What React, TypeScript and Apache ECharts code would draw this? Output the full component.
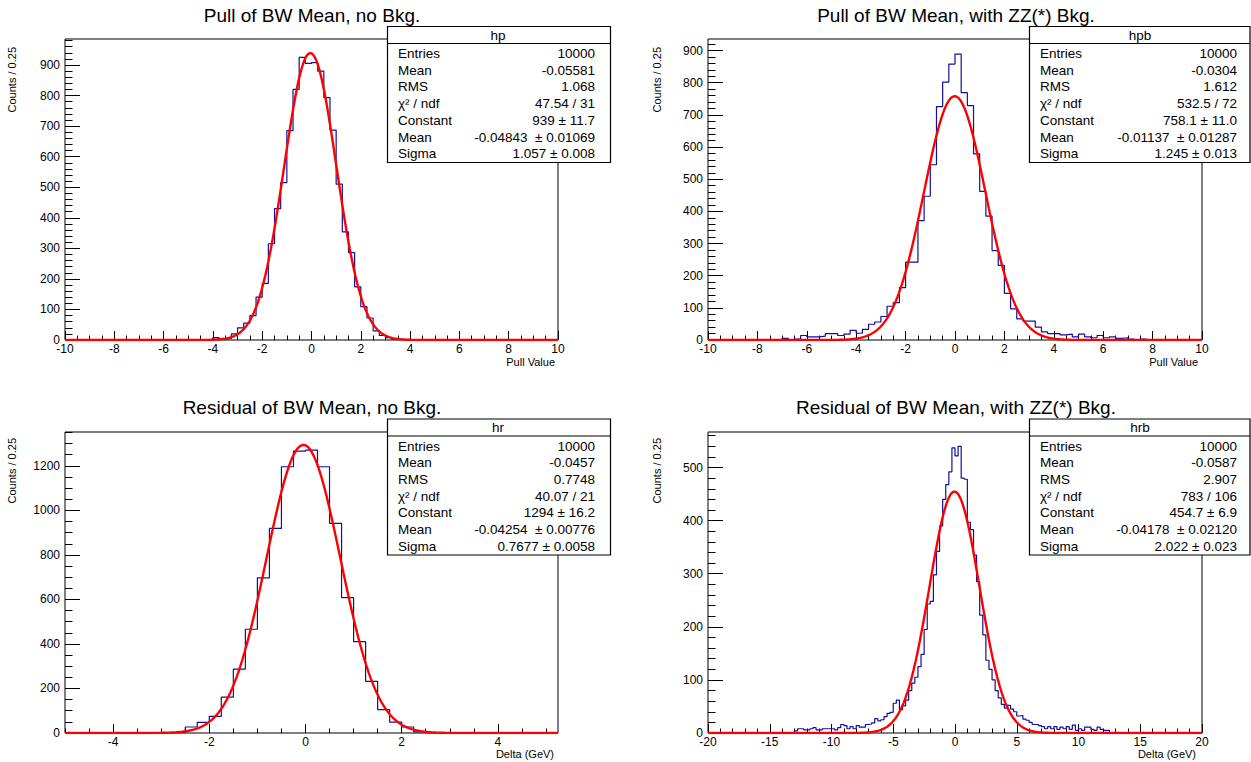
import React, { useEffect, useRef } from "react";
import * as echarts from "echarts";

const FONT = "'Liberation Sans', Arial, Helvetica, sans-serif";
const BIN_WIDTH = 0.25;

// ---------- texts ----------
const panelTitles = [
  "Pull of BW Mean, no Bkg.",
  "Pull of BW Mean, with ZZ(*) Bkg.",
  "Residual of BW Mean, no Bkg.",
  "Residual of BW Mean, with ZZ(*) Bkg.",
];
const xAxisTitles = ["Pull Value", "Pull Value", "Delta (GeV)", "Delta (GeV)"];
const yAxisTitle = "Counts / 0.25";

// ---------- axis ranges & ticks ----------
const xMin = [-10, -10, -5, -20];
const xMax = [10, 10, 5.25, 20];
const yMax = [985, 936, 1352, 567];
const xTickLabels = [
  [-10, -8, -6, -4, -2, 0, 2, 4, 6, 8, 10],
  [-10, -8, -6, -4, -2, 0, 2, 4, 6, 8, 10],
  [-4, -2, 0, 2, 4],
  [-20, -15, -10, -5, 0, 5, 10, 15, 20],
];
const yTickLabels = [
  [0, 100, 200, 300, 400, 500, 600, 700, 800, 900],
  [0, 100, 200, 300, 400, 500, 600, 700, 800, 900],
  [0, 200, 400, 600, 800, 1000, 1200],
  [0, 100, 200, 300, 400, 500],
];
const xMinorStep = [0.5, 0.5, 0.5, 1];
const yMinorStep = [20, 20, 50, 20];

// ---------- histogram contents (bin width 0.25, first bin low edge = start) ----------
const pullNoBkgStart = -4.0;
const pullNoBkgCounts = [
  8, 3, 5, 20, 40, 55, 80, 140, 185, 315, 430, 515, 685, 820, 925, 905,
  908, 880, 793, 687, 510, 354, 286, 174, 109, 72, 30, 15, 8, 3, 2,
];

const pullBkgStart = -7.0;
const pullBkgCounts = [
  5, 0, 3, 14, 10, 10, 12, 20, 20, 14, 18, 30, 21, 33, 49, 56, 73, 105, 116, 163,
  242, 242, 371, 447, 545, 726, 802, 858, 889, 769, 729, 579, 462, 385, 278, 232,
  145, 97, 66, 59, 59, 40, 25, 20, 20, 16, 18, 10, 18, 10, 7, 14, 7, 10, 5, 7, 3, 0, 3,
];

const residNoBkgStart = -2.75;
const residNoBkgCounts = [
  3, 27, 48, 75, 161, 287, 466, 697, 919, 1196, 1266, 1271, 1196, 942, 608, 410,
  232, 105, 49, 27, 5,
];

const residBkgStart = -13.0;
const residBkgCounts = [
  4, 8, 8, 6, 6, 8, 10, 6, 6, 8, 8, 8, 8, 6, 10, 16, 14, 8, 12, 8,
  14, 11, 11, 16, 17, 19, 27, 23, 25, 31, 37, 39, 56, 62, 44, 51, 62, 80, 94, 105,
  125, 148, 195, 243, 248, 298, 342, 390, 440, 468, 492, 537, 522, 540, 480, 478, 397, 383, 335, 285,
  222, 185, 137, 120, 100, 80, 66, 54, 47, 52, 45, 40, 32, 33, 26, 24, 20, 16, 16, 14,
  12, 8, 12, 8, 12, 7, 11, 8, 12, 7, 15, 5, 8, 5, 11, 11, 7, 5, 11, 7, 5, 5,
];

// ---------- statistics boxes ----------
const statNames = ["hp", "hpb", "hr", "hrb"];
const statEntries = ["10000", "10000", "10000", "10000"];
const statMean = ["-0.05581", "-0.0304", "-0.0457", "-0.0587"];
const statRms = ["1.068", "1.612", "0.7748", "2.907"];
const statChi2 = ["47.54 / 31", "532.5 / 72", "40.07 / 21", "783 / 106"];
const fitConstant = [939, 758.1, 1294, 454.7];
const fitConstantErr = ["11.7", "11.0", "16.2", "6.9"];
const fitMean = [-0.04843, -0.01137, -0.04254, -0.04178];
const fitMeanErr = ["0.01069", "0.01287", "0.00776", "0.02120"];
const fitSigma = [1.057, 1.245, 0.7677, 2.022];
const fitSigmaErr = ["0.008", "0.013", "0.0058", "0.023"];

// ---------- layout ----------
const grids = [
  { left: 65, top: 39, width: 493, height: 301 },
  { left: 708, top: 39, width: 494, height: 301 },
  { left: 65, top: 432, width: 493, height: 301 },
  { left: 708, top: 432, width: 494, height: 301 },
];
const boxes = [
  { x: 387, y: 26, w: 223, h: 136 },
  { x: 1029, y: 26, w: 220.5, h: 136 },
  { x: 387, y: 418.5, w: 223, h: 136 },
  { x: 1029, y: 418.5, w: 220.5, h: 136 },
];
const titleCenters = [
  [312, 15],
  [956, 15],
  [312, 407],
  [956, 407],
];
const yTitlePos = [
  [12, 47],
  [657, 47],
  [12, 438],
  [657, 438],
];
const xTitlePos = [
  [555, 362],
  [1198, 362],
  [554, 754],
  [1196, 754],
];

const histStarts = [pullNoBkgStart, pullBkgStart, residNoBkgStart, residBkgStart];
const histCounts = [pullNoBkgCounts, pullBkgCounts, residNoBkgCounts, residBkgCounts];

function histLine(start: number, counts: number[], min: number, max: number) {
  const n = Math.round((max - min) / BIN_WIDTH);
  const pts: number[][] = [];
  for (let k = 0; k < n; k++) {
    const lo = min + k * BIN_WIDTH;
    const idx = Math.round((lo - start) / BIN_WIDTH);
    const v = idx >= 0 && idx < counts.length ? counts[idx] : 0;
    pts.push([lo, v]);
  }
  pts.push([max, pts[pts.length - 1][1]]);
  return pts;
}

// Gaussian fit function drawn from the fit parameters shown in the stats box
function fitCurve(c: number, mu: number, s: number, min: number, max: number) {
  const pts: number[][] = [];
  const n = 800;
  for (let i = 0; i <= n; i++) {
    const x = min + ((max - min) * i) / n;
    pts.push([x, c * Math.exp(-((x - mu) * (x - mu)) / (2 * s * s))]);
  }
  return pts;
}

function stepRange(a: number, b: number, step: number) {
  const out: number[] = [];
  for (let i = 0; a + i * step <= b + 1e-9; i++) out.push(+(a + i * step).toFixed(6));
  return out;
}

function buildOption() {
  const xAxis: any[] = [];
  const yAxis: any[] = [];
  const series: any[] = [];
  const graphic: any[] = [];
  const grid = grids.map((g) => ({
    ...g,
    show: true,
    borderColor: "#000",
    borderWidth: 1,
    backgroundColor: "transparent",
  }));
  const plain = (v: number) => String(v);

  for (let i = 0; i < 4; i++) {
    const common = {
      type: "value",
      gridIndex: i,
      splitLine: { show: false },
      axisLine: { show: false, onZero: false },
    };
    xAxis.push({
      ...common,
      min: xMin[i],
      max: xMax[i],
      position: "bottom",
      axisTick: {
        show: true,
        inside: true,
        length: 9,
        customValues: xTickLabels[i],
        lineStyle: { color: "#000", width: 1 },
      },
      axisLabel: {
        show: true,
        customValues: xTickLabels[i],
        formatter: plain,
        color: "#000",
        fontSize: 12,
        fontFamily: FONT,
        margin: 3,
      },
    });
    xAxis.push({
      ...common,
      min: xMin[i],
      max: xMax[i],
      position: "bottom",
      axisTick: {
        show: true,
        inside: true,
        length: 4.5,
        customValues: stepRange(xMin[i], xMax[i], xMinorStep[i]),
        lineStyle: { color: "#000", width: 1 },
      },
      axisLabel: { show: false },
    });
    yAxis.push({
      ...common,
      min: 0,
      max: yMax[i],
      position: "left",
      axisTick: {
        show: true,
        inside: true,
        length: 15,
        customValues: yTickLabels[i],
        lineStyle: { color: "#000", width: 1 },
      },
      axisLabel: {
        show: true,
        customValues: yTickLabels[i],
        formatter: plain,
        color: "#000",
        fontSize: 12,
        fontFamily: FONT,
        margin: 5,
      },
    });
    yAxis.push({
      ...common,
      min: 0,
      max: yMax[i],
      position: "left",
      axisTick: {
        show: true,
        inside: true,
        length: 7.5,
        customValues: stepRange(0, yMax[i], yMinorStep[i]),
        lineStyle: { color: "#000", width: 1 },
      },
      axisLabel: { show: false },
    });

    series.push({
      type: "line",
      xAxisIndex: 2 * i,
      yAxisIndex: 2 * i,
      step: "end",
      symbol: "none",
      clip: true,
      data: histLine(histStarts[i], histCounts[i], xMin[i], xMax[i]),
      lineStyle: { color: "#10109a", width: 1.2 },
      z: 2,
    });
    series.push({
      type: "line",
      xAxisIndex: 2 * i,
      yAxisIndex: 2 * i,
      symbol: "none",
      clip: true,
      smooth: false,
      data: fitCurve(fitConstant[i], fitMean[i], fitSigma[i], xMin[i], xMax[i]),
      lineStyle: { color: "#ff0000", width: 2.4 },
      z: 3,
    });

    // titles
    graphic.push({
      type: "text",
      x: titleCenters[i][0],
      y: titleCenters[i][1],
      z: 10,
      style: {
        text: panelTitles[i],
        fontSize: 19,
        fontFamily: FONT,
        fill: "#000",
        align: "center",
        verticalAlign: "middle",
      },
    });
    graphic.push({
      type: "text",
      x: yTitlePos[i][0],
      y: yTitlePos[i][1],
      rotation: Math.PI / 2,
      z: 10,
      style: {
        text: yAxisTitle,
        fontSize: 11,
        fontFamily: FONT,
        fill: "#000",
        align: "right",
        verticalAlign: "middle",
      },
    });
    graphic.push({
      type: "text",
      x: xTitlePos[i][0],
      y: xTitlePos[i][1],
      z: 10,
      style: {
        text: xAxisTitles[i],
        fontSize: 11,
        fontFamily: FONT,
        fill: "#000",
        align: "right",
        verticalAlign: "middle",
      },
    });

    // stats box
    const b = boxes[i];
    graphic.push({
      type: "rect",
      z: 20,
      shape: { x: b.x + 0.5, y: b.y + 0.5, width: b.w, height: b.h },
      style: { fill: "#fff", stroke: "#000", lineWidth: 1.2 },
    });
    graphic.push({
      type: "line",
      z: 21,
      shape: { x1: b.x + 0.5, y1: b.y + 17.5, x2: b.x + b.w + 0.5, y2: b.y + 17.5 },
      style: { stroke: "#000", lineWidth: 1 },
    });
    graphic.push({
      type: "text",
      z: 22,
      x: b.x + 111,
      y: b.y + 9,
      style: {
        text: statNames[i],
        fontSize: 13.5,
        fontFamily: FONT,
        fill: "#000",
        align: "center",
        verticalAlign: "middle",
      },
    });
    const rows: [string, string][] = [
      ["Entries", statEntries[i]],
      ["Mean", statMean[i]],
      ["RMS", statRms[i]],
      ["\u03c7\u00b2 / ndf", statChi2[i]],
      ["Constant", `${fitConstant[i]} \u00b1 ${fitConstantErr[i]}`],
      ["Mean", `${fitMean[i]}\u00a0\u00a0\u00b1 ${fitMeanErr[i]}`],
      ["Sigma", `${fitSigma[i]} \u00b1 ${fitSigmaErr[i]}`],
    ];
    rows.forEach((r, j) => {
      const yy = b.y + 27.5 + j * 16.7;
      graphic.push({
        type: "text",
        z: 22,
        x: b.x + 11,
        y: yy,
        style: {
          text: r[0],
          fontSize: 13.5,
          fontFamily: FONT,
          fill: "#000",
          align: "left",
          verticalAlign: "middle",
        },
      });
      graphic.push({
        type: "text",
        z: 22,
        x: b.x + 208,
        y: yy,
        style: {
          text: r[1],
          fontSize: 13.5,
          fontFamily: FONT,
          fill: "#000",
          align: "right",
          verticalAlign: "middle",
        },
      });
    });
  }

  return {
    animation: false,
    backgroundColor: "#fff",
    grid,
    xAxis,
    yAxis,
    series,
    graphic: { elements: graphic },
  };
}

export default function App() {
  const ref = useRef<HTMLDivElement>(null);
  useEffect(() => {
    if (!ref.current) return;
    const chart = echarts.init(ref.current, undefined, { renderer: "svg" });
    chart.setOption(buildOption() as any);
    return () => chart.dispose();
  }, []);
  return (
    <div
      ref={ref}
      style={{ position: "fixed", left: 0, top: 0, width: 1251, height: 762, background: "#fff" }}
    />
  );
}
